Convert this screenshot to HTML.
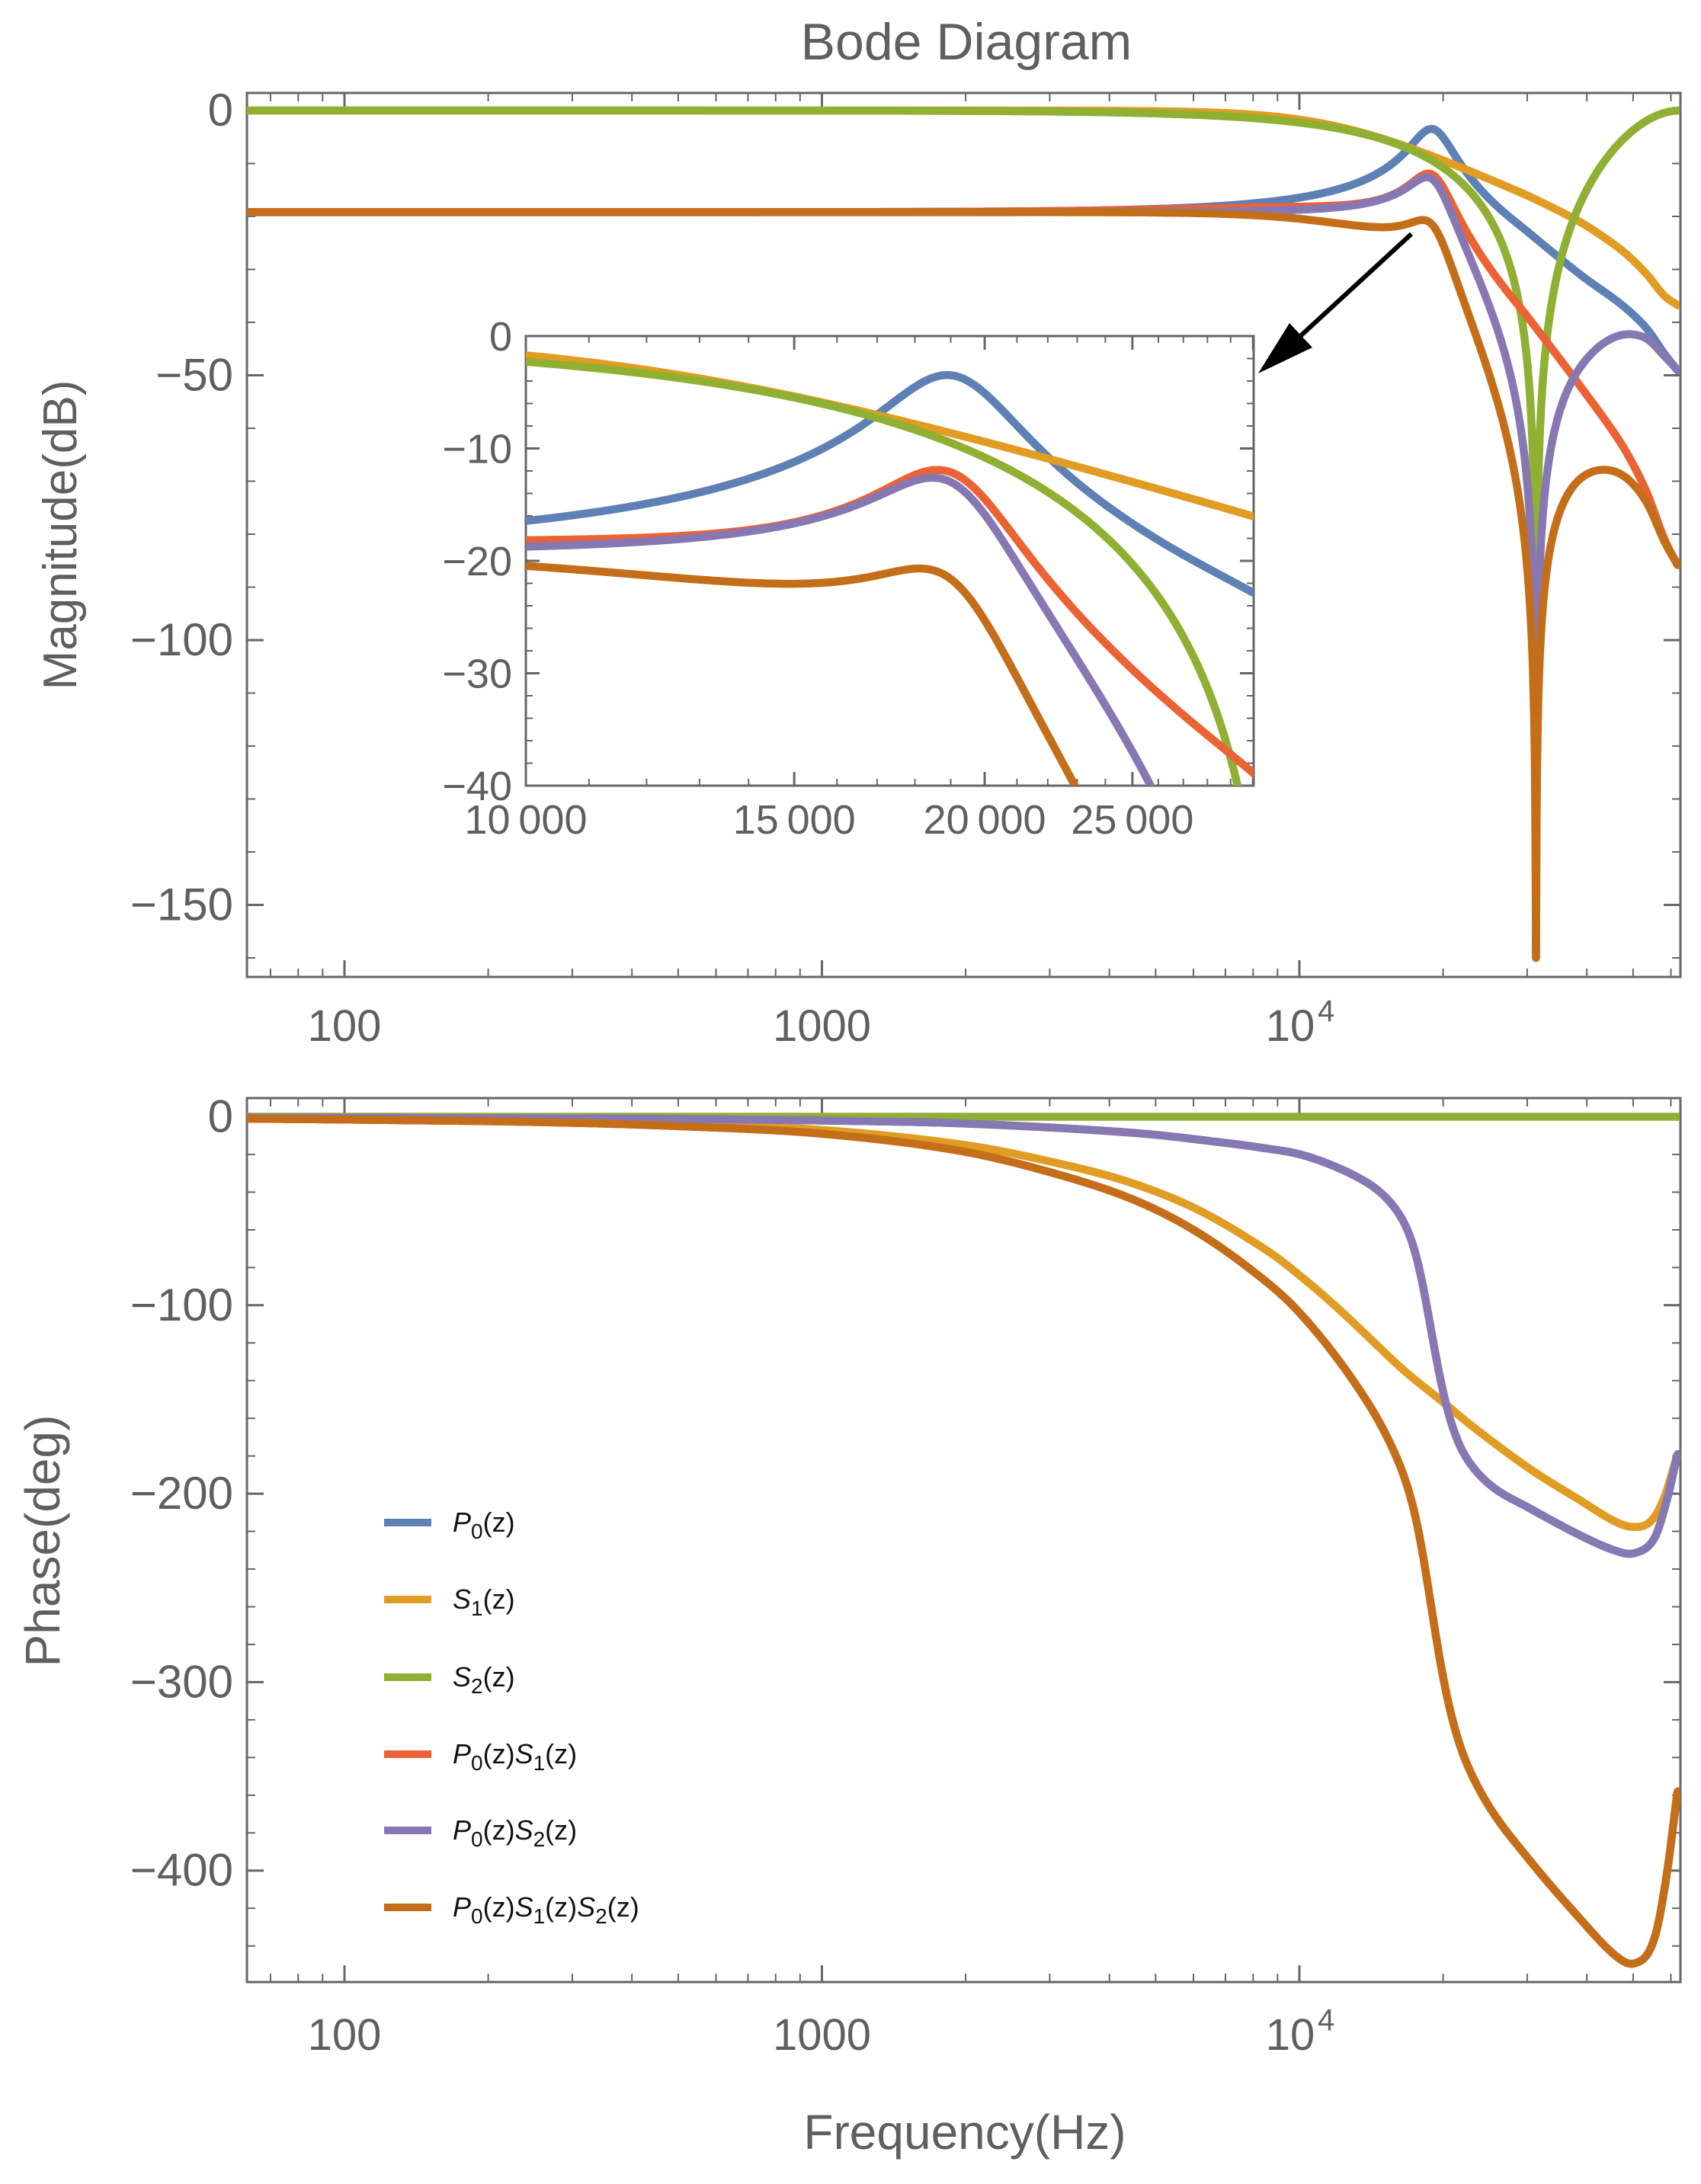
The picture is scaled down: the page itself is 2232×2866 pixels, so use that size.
<!DOCTYPE html>
<html><head><meta charset="utf-8"><style>
html,body{margin:0;padding:0;background:#fff;}
svg{display:block;}
text{font-family:"Liberation Sans",sans-serif;fill:#5f5f5f;}
</style></head><body>
<svg id="s" xmlns="http://www.w3.org/2000/svg" width="2232" height="2866" viewBox="0 0 2232 2866">
<defs>
<clipPath id="c1"><rect x="324" y="122" width="1881" height="1160"/></clipPath>
<clipPath id="c2"><rect x="324" y="1441" width="1881" height="1160"/></clipPath>
<clipPath id="c3"><rect x="690" y="441" width="955" height="590"/></clipPath>
</defs>
<text x="1268" y="78" font-size="68" text-anchor="middle">Bode Diagram</text>
<text transform="translate(100,702) rotate(-90)" font-size="62" text-anchor="middle">Magnitude(dB)</text>
<text transform="translate(78,2022) rotate(-90)" font-size="64" text-anchor="middle">Phase(deg)</text>
<text x="1266" y="2820" font-size="64" text-anchor="middle">Frequency(Hz)</text>
<g id="g"></g>
</svg>
<script>
(function(){
var NS="http://www.w3.org/2000/svg",G=document.getElementById("g");
function el(t,a,p){var e=document.createElementNS(NS,t);for(var k in a)e.setAttribute(k,a[k]);(p||G).appendChild(e);return e;}
var L=324,R=2205,X=function(lf){return 452+(lf-2)*626.5;};
var T1=122,B1=1282,Y1=function(d){return 145-d*6.95;};
var T2=1441,B2=2601,Y2=function(p){return 1465.5-p*2.473;};
var IL=690,IR=1645,IT=441,IB=1031,IX=function(lf){return IL+(lf-4)*2000;},IY=function(d){return IT-d*14.75;};
function interp(pts){return function(x){var n=pts.length;if(x<=pts[0][0])return pts[0][1];if(x>=pts[n-1][0])return pts[n-1][1];
var i=0;while(i<n-2&&x>pts[i+1][0])i++;var x0=pts[i][0],x1=pts[i+1][0],y0=pts[i][1],y1=pts[i+1][1],h=x1-x0;
function tan(j){if(j<=0)return (pts[1][1]-pts[0][1])/(pts[1][0]-pts[0][0]);if(j>=n-1)return (pts[n-1][1]-pts[n-2][1])/(pts[n-1][0]-pts[n-2][0]);return (pts[j+1][1]-pts[j-1][1])/(pts[j+1][0]-pts[j-1][0]);}
var m0=tan(i)*h,m1=tan(i+1)*h,t=(x-x0)/h,t2=t*t,t3=t2*t;
return (2*t3-3*t2+1)*y0+(t3-2*t2+t)*m0+(-2*t3+3*t2)*y1+(t3-t2)*m1;};}
function smooth(f,sig){var w=[],ws=0;for(var k=-6;k<=6;k++){var v=Math.exp(-0.5*Math.pow(k/3,2));w.push(v);ws+=v;}
return function(x){var fac=Math.max(0,Math.min(1,(4.72-x)/0.1));if(fac<=0)return f(x);var h=sig*fac/3;var s=0;for(var k=-6;k<=6;k++)s+=w[k+6]*f(x+k*h);return s/ws;};}
function z3x(zx){return 4+(zx/2.287-155)/627;}function z3d(zy){return -(zy/2.24-25)/6.95;}
function z4p(zy){return -(1430+zy/1.307-1465.5)/2.473;}
function zbx(zx){return 4+(zx-890)/1403.4;}function zbp(zy){return -(zy-67)/6.462;}
var blue=[];
for(var l=1.78;l<=4.4601;l+=0.02){var r=Math.pow(10,l)/19050;var q=6.4;blue.push([l,-19.2-10*Math.log10((1-r*r)*(1-r*r)+(r/q)*(r/q))]);}
[[1200,540],[1300,610],[1350,650],[1400,700],[1450,770],[1490,820]].forEach(function(p){blue.push([z3x(p[0]),z3d(p[1])]);});
var orng=[];
for(var l=1.78;l<=4.4801;l+=0.02){var r=Math.pow(10,l)/12000;orng.push([l,-10*Math.log10(1+Math.pow(r,4))]);}
[[1200,385],[1300,450],[1350,490],[1400,540],[1450,600],[1490,628]].forEach(function(p){orng.push([z3x(p[0]),z3d(p[1])]);});
var purp=[[1.78,-0.4],[2.0,-0.5],[2.4,-0.8],[2.7,-1.2],[3.0,-2],[3.3,-3.6],[3.651,-8.5],[3.85,-14],[3.936,-17],[4.0,-19.8]];
[[1000,240],[1100,300],[1150,350],[1200,430],[1240,560],[1270,750],[1300,950],[1330,1100],[1370,1220],[1450,1330],[1568,1410]].forEach(function(p){purp.push([zbx(p[0]),zbp(p[1])]);});
[[1100,735],[1200,765],[1300,790],[1360,795],[1420,770],[1460,700],[1490,625]].forEach(function(p){purp.push([z3x(p[0]),z4p(p[1])]);});
var oph=[[1.78,-0.6],[2,-1],[2.4,-2],[2.7,-3.8],[3.0,-7],[3.3,-15],[3.5,-25],[3.651,-35.3],[3.793,-50],[3.936,-71.6]];
[[890,610],[1000,720],[1100,830],[1200,940],[1312,1045],[1400,1130],[1568,1275]].forEach(function(p){oph.push([zbx(p[0]),zbp(p[1])]);});
[[1200,705],[1300,740],[1360,750],[1410,740],[1450,700],[1490,625]].forEach(function(p){oph.push([z3x(p[0]),z4p(p[1])]);});
var fB=smooth(interp(blue),0.012),fO=smooth(interp(orng),0.012),fP=smooth(interp(purp),0.014),fOP=smooth(interp(oph),0.014);
var fs=125200,lfN=Math.log10(fs/2),lfZ=Math.log10(fs/4);
function s2(lf){var f=Math.pow(10,lf);var c=Math.abs(Math.cos(2*Math.PI*f/fs));if(c<1e-9)return -400;return 40*Math.log10(c);}
var xs=[];for(var i=0;i<=3000;i++)xs.push(1.78+(lfN-1.78)*i/3000);xs.push(lfZ);xs.sort(function(a,b){return a-b;});
function cl(v){return Math.max(v,-160);}
var mag=[function(l){return fB(l);},function(l){return fO(l);},function(l){return cl(s2(l));},function(l){return fB(l)+fO(l);},function(l){return cl(fB(l)+s2(l));},function(l){return cl(fB(l)+fO(l)+s2(l));}];
var ph=[fP,fOP,function(){return 0;},function(l){return fP(l)+fOP(l);},fP,function(l){return fP(l)+fOP(l);}];
var cols=["#5e81b5","#e19c24","#8fb032","#eb6235","#8778b3","#c56e1a"];
var LW=10.5;
function frame(x0,y0,x1,y1){el("rect",{x:x0,y:y0,width:x1-x0,height:y1-y0,fill:"#fff",stroke:"#666","stroke-width":3});}
function tk(x1,y1,x2,y2,w){el("line",{x1:x1,y1:y1,x2:x2,y2:y2,stroke:"#666","stroke-width":w||2});}
function txt(x,y,s,sz,anc){var t=el("text",{x:x,y:y,"font-size":sz,"text-anchor":anc||"middle"});t.textContent=s;return t;}
function xticks(T,B,ly){for(var d=1;d<=4;d++)for(var m=1;m<=9;m++){var lf=d+Math.log10(m);var x=X(lf);if(x<L||x>R)continue;var major=(m==1);var len=major?22:11;tk(x,B,x,B-len,major?3:2);tk(x,T,x,T+len,major?3:2);}
txt(X(2),ly,"100",58);txt(X(3),ly,"1000",58);txt(X(4)-12,ly,"10",58);var s=el("text",{x:X(4)+24,y:ly-26,"font-size":40,"text-anchor":"start"});s.textContent="4";}
function poly(pts){return pts.map(function(p){return p[0].toFixed(1)+","+p[1].toFixed(1);}).join(" ");}
frame(L,T1,R,B1);
for(var d=0;d>=-160;d-=10){var y=Y1(d);var major=(d%50==0);var len=major?22:11;tk(L,y,L+len,y,major?3:2);tk(R,y,R-len,y,major?3:2);if(major)txt(306,y+20,d==0?"0":"\u2212"+(-d),60,"end");}
xticks(T1,B1,1366);
var gt=el("g",{"clip-path":"url(#c1)"});
for(var k=0;k<6;k++){var pts=xs.map(function(l){return [X(l),Y1(mag[k](l))];});el("polyline",{points:poly(pts),fill:"none",stroke:cols[k],"stroke-width":LW,"stroke-linejoin":"round"},gt);}
frame(IL,IT,IR,IB);
for(var d=0;d>=-40;d-=2){var y=IY(d);var major=(d%10==0);var len=major?18:9;tk(IL,y,IL+len,y,major?3:2);tk(IR,y,IR-len,y,major?3:2);if(major)txt(672,y+19,d==0?"0":"\u2212"+(-d),54,"end");}
for(var f=10000;f<=30000;f+=1000){var x=IX(Math.log10(f));if(x>IR+1)continue;var major=(f%5000==0);var len=major?18:9;tk(x,IB,x,IB-len,major?3:2);tk(x,IT,x,IT+len,major?3:2);}
[[10000,"10\u2009000"],[15000,"15\u2009000"],[20000,"20\u2009000"],[25000,"25\u2009000"]].forEach(function(a){txt(IX(Math.log10(a[0])),1094,a[1],54);});
var gi=el("g",{"clip-path":"url(#c3)"});var xi=[];for(var i=0;i<=600;i++)xi.push(4+0.48*i/600);
for(var k=0;k<6;k++){var pts=xi.map(function(l){return [IX(l),IY(Math.max(mag[k](l),-60))];});el("polyline",{points:poly(pts),fill:"none",stroke:cols[k],"stroke-width":LW,"stroke-linejoin":"round"},gi);}
el("line",{x1:1852,y1:307,x2:1690,y2:456,stroke:"#000","stroke-width":6});
el("polygon",{points:"1651,490 1692,424 1722,456",fill:"#000"});
frame(L,T2,R,B2);
for(var p=0;p>=-460;p-=20){var y=Y2(p);if(y>B2)continue;var major=(p%100==0);var len=major?22:11;tk(L,y,L+len,y,major?3:2);tk(R,y,R-len,y,major?3:2);if(major)txt(306,y+20,p==0?"0":"\u2212"+(-p),60,"end");}
xticks(T2,B2,2690);
var gb=el("g",{"clip-path":"url(#c2)"});
for(var k=0;k<6;k++){var pts=xs.map(function(l){return [X(l),Y2(ph[k](l))];});el("polyline",{points:poly(pts),fill:"none",stroke:cols[k],"stroke-width":LW,"stroke-linejoin":"round"},gb);}
var labs=[[["P","0"]],[["S","1"]],[["S","2"]],[["P","0"],["S","1"]],[["P","0"],["S","2"]],[["P","0"],["S","1"],["S","2"]]];
var ly=[1998,2099,2201,2302,2402,2503];
for(var k=0;k<6;k++){el("line",{x1:504,y1:ly[k],x2:566,y2:ly[k],stroke:cols[k],"stroke-width":10});
var t=el("text",{x:594,y:ly[k]+12,"font-size":36,"text-anchor":"start"});t.setAttribute("style","fill:#111");
labs[k].forEach(function(a){var s1=el("tspan",{"font-style":"italic"},t);s1.textContent=a[0];var s2e=el("tspan",{"font-size":28,dy:9},t);s2e.textContent=a[1];var s3=el("tspan",{dy:-9},t);s3.textContent="(z)";});}
})();
</script>
</body></html>
